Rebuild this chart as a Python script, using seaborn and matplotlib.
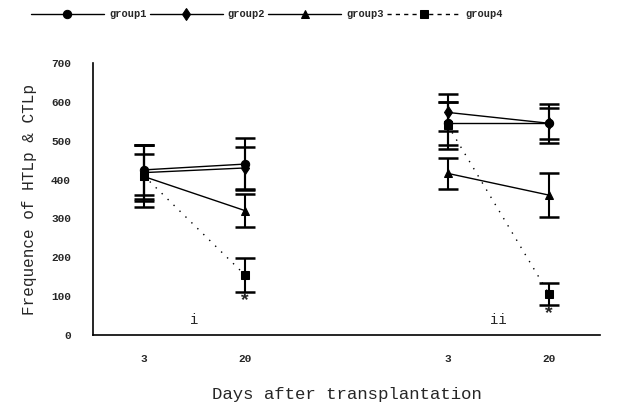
# %%
import pandas as pd
import seaborn as sns
import matplotlib.pyplot as plt

# %%
# valores (média e desvio) - dias 3 e 20, painéis i e ii
dias = ["3", "20"]
paineis = ["i", "ii"]
grupos = ["group1", "group2", "group3", "group4"]

media_g1 = [425, 440, 545, 545]
media_g2 = [418, 430, 573, 545]
media_g3 = [408, 320, 416, 360]
media_g4 = [410, 154, 540, 105]

dp_g1 = [65, 68, 55, 50]
dp_g2 = [72, 55, 47, 40]
dp_g3 = [57, 42, 40, 57]
dp_g4 = [80, 43, 60, 28]

posicoes = [0.5, 1.5, 3.5, 4.5]
y_ticks = [0, 100, 200, 300, 400, 500, 600, 700]

# %%
linhas = []
for g, med, dp in zip(grupos, [media_g1, media_g2, media_g3, media_g4],
                      [dp_g1, dp_g2, dp_g3, dp_g4]):
    for i in range(4):
        linhas.append({"group": g, "pos": posicoes[i], "valor": med[i], "dp": dp[i],
                       "painel": paineis[i // 2], "dia": dias[i % 2]})
df = pd.DataFrame(linhas)

# %%
sns.set_style("white")
plt.rcParams['font.family'] = ['Liberation Mono', 'DejaVu Sans Mono']

fig = plt.figure(figsize=(6.17, 4.07), dpi=100)
ax = fig.add_axes([0.151, 0.177, 0.821, 0.668])

preto = {g: "black" for g in grupos}
marcadores = {"group1": "o", "group2": "d", "group3": "^", "group4": "s"}
tracos = {"group1": "", "group2": "", "group3": "", "group4": (1, 5)}

sns.lineplot(data=df, x="pos", y="valor", hue="group", style="group", units="painel",
             estimator=None, palette=preto, markers=marcadores, dashes=tracos,
             markersize=6, linewidth=1, markeredgecolor="black", ax=ax)

# barras de erro (desvio padrão)
for g in grupos:
    d = df[df["group"] == g]
    ax.errorbar(d["pos"], d["valor"], yerr=d["dp"], fmt="none", ecolor="black",
                elinewidth=1.5, capsize=7, capthick=1.8)

# asteriscos no grupo4 dia 20
d4 = df[(df["group"] == "group4") & (df["dia"] == "20")]
for _, r in d4.iterrows():
    ax.text(r["pos"], r["valor"] - r["dp"] - 22, "*", ha="center", va="center",
            fontsize=14, fontweight="bold")

# rótulos dos painéis
ax.text(1, 38, "i", ha="center", va="center", fontsize=10)
ax.text(4, 38, "ii", ha="center", va="center", fontsize=10)

ax.set_xlim(0, 5)
ax.set_ylim(0, 700)
ax.set_xticks([1, 2, 3, 4, 5])
ax.set_xticklabels([])
ax.set_xticks(posicoes, minor=True)
ax.set_xticklabels(dias * 2, minor=True, fontsize=8, fontweight="bold")
ax.tick_params(axis="x", which="minor", length=0, pad=14)
ax.tick_params(axis="x", which="major", direction="in", length=4, width=1)
ax.set_yticks(y_ticks)
ax.set_yticklabels(y_ticks, fontsize=8, fontweight="bold")
ax.tick_params(axis="y", direction="in", length=3, width=1, pad=16)

for lado in ["top", "right"]:
    ax.spines[lado].set_visible(False)
for lado in ["left", "bottom"]:
    ax.spines[lado].set_color("black")
    ax.spines[lado].set_linewidth(1.2)

ax.set_xlabel("Days after transplantation", fontsize=12.5, labelpad=16)
ax.set_ylabel("Frequence of HTLp & CTLp", fontsize=11.5, labelpad=10)

# legenda no topo
handles, labels = ax.get_legend_handles_labels()
ax.get_legend().remove()
handles[-1].set_dashes((3, 3))
fig.legend(handles, labels, loc="upper left", bbox_to_anchor=(0.035, 1.0), ncol=4,
           frameon=False, handlelength=7, handletextpad=0.5, columnspacing=0.3,
           prop={"size": 7.5, "weight": "bold"})

fig.savefig("out.png", dpi=100)
